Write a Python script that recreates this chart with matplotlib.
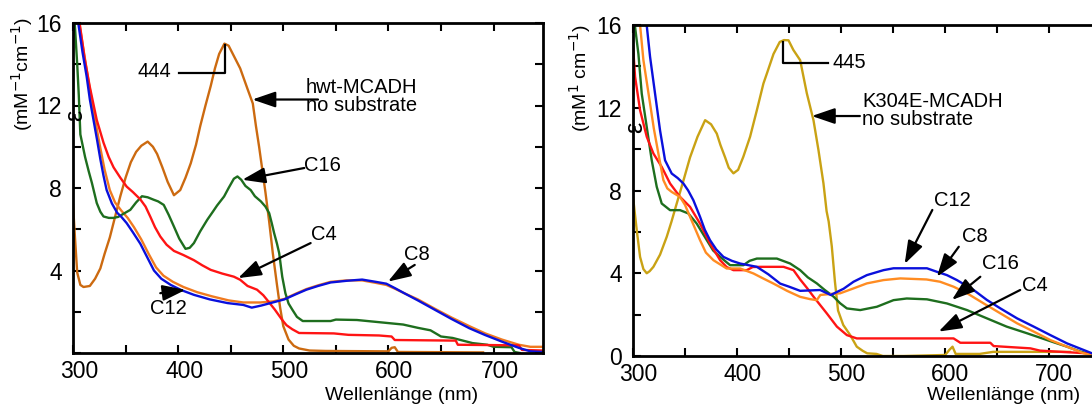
import matplotlib.pyplot as plt
from matplotlib.ticker import MultipleLocator, FixedLocator
from matplotlib.transforms import ScaledTranslation

plt.rcParams['font.family'] = ['Liberation Sans', 'DejaVu Sans']

# ---------------- left panel: hwt-MCADH ----------------
wl_hwt = [300, 302, 304, 307, 310, 316, 321, 326, 330, 335, 340, 345, 350, 355, 360, 365,
          371, 376, 380, 385, 390, 396, 402, 407, 412, 417, 421, 426, 431, 435, 439, 444,
          448, 453, 459, 466, 471, 474, 477, 480, 483, 486.5, 490, 494, 497, 500, 505, 510,
          515, 525, 540, 600, 603, 606, 609, 690]
eps_hwt = [7.2, 5.5, 3.9, 3.3, 3.2, 3.25, 3.6, 4.1, 4.8, 5.6, 6.6, 7.6, 8.5, 9.25, 9.75, 10.05,
           10.25, 10.0, 9.65, 9.0, 8.3, 7.65, 7.9, 8.5, 9.2, 10.1, 11.0, 12.0, 12.95, 13.8, 14.5, 15.0,
           14.9, 14.4, 13.8, 12.8, 12.1, 11.0, 10.0, 8.9, 7.8, 6.4, 4.85, 3.3, 2.2, 1.3, 0.65, 0.35,
           0.22, 0.12, 0.1, 0.08, 0.25, 0.28, 0.05, 0.03]

wl_c8_l = [300, 305, 309, 313, 316, 319.5, 323, 326, 329, 332, 337, 342, 346, 351, 357, 364,
           370, 377, 384, 393, 403, 415, 430, 447, 462, 470, 479, 490, 501, 512, 522, 533,
           545, 560, 575, 588, 598, 606, 615, 628, 644, 660, 677, 692, 708, 724, 735, 747]
eps_c8_l = [17.5, 16.0, 14.6, 13.4, 12.3, 11.3, 10.3, 9.4, 8.6, 7.9, 7.25, 6.8, 6.6, 6.3, 5.85, 5.3,
            4.7, 4.0, 3.6, 3.3, 3.05, 2.82, 2.6, 2.42, 2.33, 2.2, 2.3, 2.45, 2.6, 2.85, 3.07, 3.25,
            3.42, 3.5, 3.56, 3.45, 3.36, 3.15, 2.9, 2.55, 2.1, 1.65, 1.2, 0.87, 0.55, 0.25, 0.08, 0.05]

wl_c12_l = [300, 305, 310, 315, 320, 325, 330, 335, 340, 346, 352, 358, 365, 372, 379, 386,
            395, 405, 418, 432, 448, 462, 478, 490, 501, 512, 522, 533, 545, 560, 575, 588,
            598, 606, 615, 628, 644, 660, 677, 692, 708, 724, 735, 747]
eps_c12_l = [17.5, 16.3, 14.7, 13.1, 11.6, 10.2, 8.9, 7.9, 7.3, 6.9, 6.55, 6.1, 5.5, 4.8, 4.15, 3.75,
             3.45, 3.2, 2.95, 2.75, 2.55, 2.45, 2.45, 2.5, 2.62, 2.88, 3.1, 3.28, 3.45, 3.52, 3.52, 3.4,
             3.3, 3.12, 2.9, 2.6, 2.15, 1.72, 1.3, 0.95, 0.65, 0.4, 0.3, 0.3]

wl_c4_l = [300, 306.7, 311, 316, 322.6, 329, 334, 338.6, 345, 351, 357, 364, 369, 373.6, 378, 383,
           389, 396, 405, 415, 423, 431, 442, 453, 459, 466, 475, 481, 485, 492, 498.7, 503,
           508.6, 515, 548, 562, 591, 603, 606, 664, 666, 724, 727, 747]
eps_c4_l = [18.0, 15.85, 14.3, 12.9, 11.3, 10.2, 9.5, 9.0, 8.5, 8.07, 7.8, 7.45, 7.1, 6.6, 6.1, 5.65,
            5.25, 4.95, 4.75, 4.5, 4.25, 4.03, 3.85, 3.7, 3.55, 3.25, 3.07, 2.8, 2.55, 2.1, 1.62, 1.35,
            1.15, 0.97, 0.95, 0.88, 0.85, 0.8, 0.63, 0.6, 0.4, 0.37, 0.15, 0.12]

wl_c16_l = [300, 302, 304, 305.5, 307, 311.5, 315, 318, 322.6, 326, 329, 334, 338.6, 343, 348, 354.5,
            360, 365.6, 371, 376.8, 381, 386.3, 391, 396, 401, 407, 411, 415, 421, 427.7, 433, 437,
            443.7, 448, 453, 456.4, 460, 464, 469, 473, 478.7, 483, 486.6, 489, 491.3, 494, 496.1, 499,
            502, 505, 508.6, 513, 518.5, 545, 550, 570, 600, 614, 628, 640, 650, 661,
            680, 694, 700, 717, 720, 725]
eps_c16_l = [17.0, 15.7, 14.0, 12.5, 10.6, 9.5, 8.8, 8.24, 7.27, 6.85, 6.62, 6.55, 6.55, 6.6, 6.75, 6.94,
             7.3, 7.6, 7.55, 7.43, 7.35, 7.18, 6.7, 6.13, 5.55, 5.05, 5.1, 5.33, 5.9, 6.46, 6.85, 7.15,
             7.59, 8.0, 8.45, 8.56, 8.4, 8.1, 7.9, 7.6, 7.35, 7.1, 6.78, 6.3, 5.81, 5.3, 4.84, 3.7,
             2.9, 2.4, 2.1, 1.75, 1.55, 1.55, 1.62, 1.6, 1.45, 1.38, 1.22, 1.1, 0.8, 0.73,
             0.48, 0.4, 0.3, 0.28, 0.05, 0.0]

# ---------------- right panel: K304E-MCADH ----------------
wl_k304 = [300, 303.6, 306.8, 310, 313.2, 316, 319.6, 326, 332.4, 337, 342, 348, 354.8, 362, 369.3, 375,
           380.5, 384, 388.5, 392, 396.5, 401, 406, 412.5, 419, 425.3, 428.6, 435, 441, 445, 449.4, 454,
           460.6, 467, 473.4, 478.2, 483, 486, 488, 491, 494, 497, 502, 508.7, 515, 520.7, 525, 534,
           540, 560, 600, 604, 607, 610, 633, 646, 720]
eps_k304 = [7.7, 6.08, 4.79, 4.2, 4.0, 4.1, 4.31, 4.9, 5.76, 6.5, 7.37, 8.4, 9.6, 10.6, 11.4, 11.2,
            10.75, 10.2, 9.6, 9.1, 8.83, 9.0, 9.63, 10.6, 11.88, 13.17, 13.65, 14.6, 15.18, 15.27, 15.26, 14.8,
            14.3, 12.7, 11.4, 9.95, 8.34, 7.0, 6.5, 5.3, 3.6, 2.2, 1.5, 1.01, 0.45, 0.25, 0.13, 0.1,
            0.0, 0.0, 0.05, 0.3, 0.45, 0.1, 0.1, 0.2, 0.2]

wl_c12_r = [300, 313, 316.4, 321.2, 326, 330.8, 337.2, 343, 348.4, 353, 358, 364.4, 369, 374, 380, 386.9,
            395, 402.9, 419, 430, 441.4, 450, 460.6, 479.8, 490, 502.3, 511.9, 524.7, 540.7, 550.3, 582.4, 592,
            601.6, 611.2, 627.3, 640, 653, 669, 685, 701, 717, 733, 741]
eps_c12_r = [20.0, 16.07, 14.46, 12.68, 10.9, 9.46, 8.82, 8.6, 8.34, 8.0, 7.53, 6.73, 6.1, 5.6, 5.15, 4.79,
             4.6, 4.47, 4.31, 3.95, 3.5, 3.35, 3.15, 3.19, 2.95, 3.25, 3.59, 3.91, 4.15, 4.24, 4.24, 4.07,
             3.91, 3.67, 3.19, 2.71, 2.3, 1.82, 1.42, 1.01, 0.61, 0.29, 0.13]

wl_c8_r = [300, 306.8, 310, 316.4, 320, 324.4, 329.2, 333, 337.2, 345.2, 350, 354.8, 364.4, 370, 377.3, 390,
           402.9, 415.7, 425, 435, 448, 460.6, 470, 476.6, 480, 490, 499, 512, 524.7, 540.7, 556.8, 582,
           595, 608, 621, 637, 653, 669, 685, 701, 717, 733, 741]
eps_c8_r = [19.0, 16.0, 14.3, 12.2, 11.0, 9.78, 8.5, 8.1, 7.93, 7.69, 7.3, 6.73, 5.6, 5.0, 4.63, 4.23,
            4.23, 3.99, 3.75, 3.5, 3.15, 2.86, 2.75, 2.7, 2.95, 3.0, 3.03, 3.27, 3.51, 3.67, 3.75, 3.7,
            3.59, 3.35, 3.03, 2.54, 2.06, 1.58, 1.18, 0.77, 0.45, 0.13, 0.05]

wl_c16_r = [300, 302, 305.2, 308.4, 313.2, 318, 322.8, 327.6, 335.6, 345.2, 353.2, 361.2, 370.9, 377, 383.7, 393.3,
            406.1, 412, 419, 438.2, 451, 460.6, 468, 476.6, 484, 492.7, 499, 505.5, 518.3, 534.3, 550.3, 563,
            582.4, 601.6, 620.9, 640, 659, 678.5, 697.8, 717, 730, 736, 741]
eps_c16_r = [16.5, 15.9, 14.6, 12.68, 11.07, 9.46, 8.18, 7.37, 7.05, 7.05, 6.89, 6.4, 5.6, 5.1, 4.79, 4.39,
             4.39, 4.6, 4.71, 4.71, 4.47, 4.15, 3.8, 3.51, 3.2, 2.87, 2.55, 2.3, 2.22, 2.38, 2.7, 2.78,
             2.74, 2.54, 2.22, 1.82, 1.42, 1.1, 0.77, 0.45, 0.21, 0.13, 0.1]

wl_c4_r = [300, 302, 306.8, 313.2, 319.6, 327.6, 335.6, 345.2, 354.8, 364.4, 374, 383.7, 390, 396.5, 409.3, 415,
           422.1, 444.6, 454.2, 460.6, 467, 473.4, 486.2, 495.9, 505.5, 515, 608, 614.5, 643.3, 646.5, 681.8, 691,
           736, 741]
eps_c4_r = [15.0, 13.5, 11.88, 10.6, 9.79, 9.14, 8.34, 7.69, 7.21, 6.4, 5.44, 4.63, 4.3, 4.15, 4.15, 4.3,
            4.31, 4.31, 4.15, 3.7, 3.3, 2.87, 2.06, 1.42, 1.01, 0.85, 0.85, 0.64, 0.64, 0.48, 0.37, 0.26,
            0.13, 0.1]

BLUE, RED, GREEN = '#0A10DC', '#FF1414', '#1E6E1E'
BROWN, ORANGE, GOLD, ORANGE_R = '#CC6A10', '#F07A20', '#C9A214', '#FF8C22'

W, H = 1092, 409
fig = plt.figure(figsize=(W / 100, H / 100), dpi=100)
axL = fig.add_axes([73 / W, (H - 353) / H, 470 / W, 330 / H])
axR = fig.add_axes([633 / W, (H - 356) / H, 459 / W, 331 / H])


def style(ax, xmax, yticks, right=True, dx=6):
    ax.set_xlim(300, xmax)
    ax.set_ylim(0, 16)
    ax.xaxis.set_major_locator(MultipleLocator(100))
    ax.xaxis.set_minor_locator(MultipleLocator(50))
    ax.yaxis.set_major_locator(FixedLocator(yticks))
    ax.yaxis.set_minor_locator(MultipleLocator(2))
    ax.tick_params(which='both', direction='in', length=6, width=1.5,
                   top=True, right=right, labelsize=16.5)
    ax.tick_params(axis='x', pad=5)
    ax.tick_params(axis='y', pad=8)
    for sp in ax.spines.values():
        sp.set_linewidth(2)
    if not right:
        ax.spines['right'].set_visible(False)
    off = ScaledTranslation(dx / 100, 0, fig.dpi_scale_trans)
    for lab in ax.get_xticklabels():
        lab.set_transform(lab.get_transform() + off)


def arrow(ax, tail, tip):
    ax.annotate('', xy=tip, xytext=tail,
                arrowprops=dict(arrowstyle='-|>,head_length=0.7,head_width=0.24',
                                color='black', lw=1.6, mutation_scale=20,
                                shrinkA=0, shrinkB=0))


lw = 1.7
# left panel curves
axL.plot(wl_hwt, eps_hwt, color=BROWN, lw=lw)
axL.plot(wl_c12_l, eps_c12_l, color=ORANGE, lw=lw)
axL.plot(wl_c16_l, eps_c16_l, color=GREEN, lw=lw)
axL.plot(wl_c4_l, eps_c4_l, color=RED, lw=lw)
axL.plot(wl_c8_l, eps_c8_l, color=BLUE, lw=lw)
style(axL, 747, [4, 8, 12, 16], right=True, dx=6)

fs = 14.5
axL.plot([401, 445, 445], [13.58, 13.58, 14.95], color='black', lw=1.6)
axL.text(393, 13.66, '444', fontsize=fs, ha='right', va='center')
axL.text(627, 12.45, 'hwt-MCADH\nno substrate', fontsize=fs, ha='right', va='center',
         multialignment='right', linespacing=0.95)
arrow(axL, (533, 12.29), (470.6, 12.29))
axL.text(520, 9.1, 'C16', fontsize=fs, ha='left', va='center')
arrow(axL, (520, 8.97), (461, 8.4))
axL.text(526, 5.73, 'C4', fontsize=fs, ha='left', va='center')
arrow(axL, (526, 5.33), (457, 3.63))
axL.text(614.6, 4.77, 'C8', fontsize=fs, ha='left', va='center')
arrow(axL, (625, 4.27), (599.5, 3.46))
axL.text(373.6, 2.17, 'C12', fontsize=fs, ha='left', va='center')
arrow(axL, (383, 2.9), (407, 3.06))

# right panel curves
axR.plot(wl_k304, eps_k304, color=GOLD, lw=lw)
axR.plot(wl_c16_r, eps_c16_r, color=GREEN, lw=lw)
axR.plot(wl_c4_r, eps_c4_r, color=RED, lw=lw)
axR.plot(wl_c8_r, eps_c8_r, color=ORANGE_R, lw=lw)
axR.plot(wl_c12_r, eps_c12_r, color=BLUE, lw=lw)
style(axR, 741, [0, 4, 8, 12, 16], right=False, dx=5)

axR.plot([443.9, 443.9, 487.8], [15.18, 14.14, 14.14], color='black', lw=1.6)
axR.text(492, 14.2, '445', fontsize=fs, ha='left', va='center')
axR.text(520, 11.85, 'K304E-MCADH\nno substrate', fontsize=fs, ha='left', va='center',
         linespacing=0.95)
arrow(axR, (518, 11.6), (471.8, 11.6))
axR.text(589, 7.5, 'C12', fontsize=fs, ha='left', va='center')
arrow(axR, (587.6, 7.06), (561, 4.45))
axR.text(616, 5.76, 'C8', fontsize=fs, ha='left', va='center')
arrow(axR, (613, 5.28), (592, 3.83))
axR.text(635, 4.48, 'C16', fontsize=fs, ha='left', va='center')
arrow(axR, (633.7, 3.83), (606.4, 2.71))
axR.text(673.7, 3.43, 'C4', fontsize=fs, ha='left', va='center')
arrow(axR, (672, 3.19), (593.6, 1.18))

# axis titles
fig.text(402 / W, (H - 395) / H, 'Wellenlänge (nm)', fontsize=14, ha='center', va='center')
fig.text(1004 / W, (H - 395) / H, 'Wellenlänge (nm)', fontsize=14, ha='center', va='center')
fig.text(22 / W, (H - 74) / H, '(mM$^{-1}$cm$^{-1}$)', fontsize=14, rotation=90,
         ha='center', va='center')
fig.text(75 / W, (H - 115) / H, 'ε', fontsize=18, rotation=90, ha='center', va='center')
fig.text(580 / W, (H - 78) / H, '(mM$^{1}$ cm$^{-1}$)', fontsize=14, rotation=90,
         ha='center', va='center')
fig.text(635 / W, (H - 127) / H, 'ε', fontsize=18, rotation=90, ha='center', va='center')

fig.savefig('out.png', dpi=100)
